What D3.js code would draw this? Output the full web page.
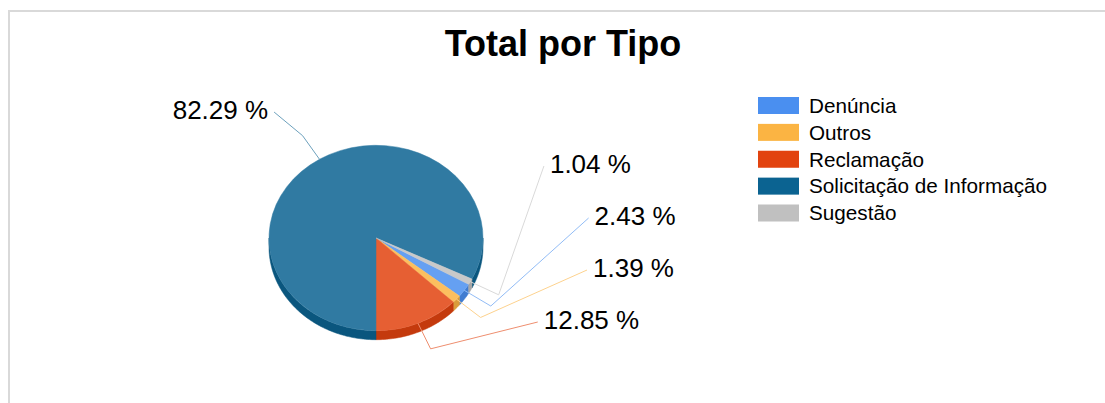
<!DOCTYPE html>
<html>
<head>
<meta charset="utf-8">
<script src="https://cdn.jsdelivr.net/npm/d3@7"></script>
<style>
  body { margin: 0; background: #fff; }
  #chart { width: 1105px; height: 403px; }
  text { font-family: "Liberation Sans", Arial, sans-serif; }
</style>
</head>
<body>
<div id="chart"></div>
<script>
const categories = ['Denúncia', 'Outros', 'Reclamação', 'Solicitação de Informação', 'Sugestão'];
const percentages = [2.43, 1.39, 12.85, 82.29, 1.04];
const baseColors = ['#4a8ff0', '#fbb443', '#e2430f', '#0b6391', '#c0c0c0'];
const chartTitle = 'Total por Tipo';

class Pie3DChart {
  constructor(_config, _data) {
    this.config = {
      parentElement: _config.parentElement,
      containerWidth: _config.containerWidth || 1105,
      containerHeight: _config.containerHeight || 403,
      cx: 376, cy: 238, rx: 107, ry: 92.7, depth: 9
    };
    this.data = _data;
    this.initVis();
  }

  initVis() {
    const vis = this;
    const c = vis.config;

    vis.svg = d3.select(c.parentElement)
      .append('svg')
      .attr('width', c.containerWidth)
      .attr('height', c.containerHeight);

    // frame (only top and left edges are visible)
    vis.svg.append('rect')
      .attr('x', 9).attr('y', 11)
      .attr('width', c.containerWidth + 50).attr('height', c.containerHeight + 50)
      .attr('fill', 'none')
      .attr('stroke', '#d9d9d9')
      .attr('stroke-width', 2);

    vis.svg.append('text')
      .attr('x', 563).attr('y', 56)
      .attr('text-anchor', 'middle')
      .attr('font-size', 36)
      .attr('font-weight', 'bold')
      .attr('fill', '#000')
      .text(chartTitle);

    vis.colorScale = d3.scaleOrdinal().domain(categories).range(baseColors);

    vis.updateVis();
  }

  updateVis() {
    const vis = this;
    const start = 2 * Math.PI / 3;
    vis.pie = d3.pie()
      .sort(null)
      .value(d => d.value)
      .startAngle(start)
      .endAngle(start + 2 * Math.PI);
    vis.arcs = vis.pie(vis.data);
    vis.renderVis();
  }

  renderVis() {
    const vis = this;
    const c = vis.config;
    const TAU = 2 * Math.PI;
    const topColor = k => d3.interpolateRgb(vis.colorScale(k), '#fff')(0.15);
    const sideColor = k => d3.color(vis.colorScale(k)).darker(0.4).formatHex();
    const lineColor = k => d3.interpolateRgb(vis.colorScale(k), '#fff')(0.4);
    const pt = (a, f) => [c.cx + c.rx * f * Math.sin(a), c.cy - c.ry * f * Math.cos(a)];

    const pieG = vis.svg.append('g');

    // front side walls
    const sidePaths = [];
    vis.arcs.forEach(d => {
      [0, 1].forEach(k => {
        const lo = Math.max(d.startAngle, Math.PI / 2 + TAU * k);
        const hi = Math.min(d.endAngle, 3 * Math.PI / 2 + TAU * k);
        if (hi <= lo) return;
        const n = Math.max(2, Math.ceil((hi - lo) / 0.02));
        const angles = d3.range(n + 1).map(i => lo + (hi - lo) * i / n);
        const top = angles.map(a => pt(a, 1));
        const bottom = angles.slice().reverse().map(a => { const p = pt(a, 1); return [p[0], p[1] + c.depth]; });
        sidePaths.push({ key: d.data.key, points: top.concat(bottom) });
      });
    });

    pieG.selectAll('.side')
      .data(sidePaths)
      .join('path')
      .attr('class', 'side')
      .attr('d', d => d3.line()(d.points) + 'Z')
      .attr('fill', d => sideColor(d.key))
      .attr('stroke', d => sideColor(d.key))
      .attr('stroke-width', 0.5);

    // top faces
    const arcGen = d3.arc().innerRadius(0).outerRadius(c.rx);
    pieG.append('g')
      .attr('transform', `translate(${c.cx},${c.cy}) scale(1,${c.ry / c.rx})`)
      .selectAll('.slice')
      .data(vis.arcs)
      .join('path')
      .attr('class', 'slice')
      .attr('d', arcGen)
      .attr('fill', d => topColor(d.data.key))
      .attr('stroke', d => topColor(d.data.key))
      .attr('stroke-width', 0.5)
      .attr('vector-effect', 'non-scaling-stroke');

    // label layout
    const labelCy = c.cy + 4;
    const spacing = 52, maxDy = 80, minDy = -130;
    const labels = vis.arcs.map(d => {
      const mid = ((d.startAngle + d.endAngle) / 2) % TAU;
      const right = Math.sin(mid) >= 0;
      return {
        key: d.data.key, value: d.data.value, mid, right,
        anchor: pt(mid, 1), elbow: pt(mid, 1.3),
        nx: 193 * Math.sin(mid),
        dy: Math.min(maxDy, Math.max(minDy, -153 * Math.cos(mid)))
      };
    });
    [true, false].forEach(side => {
      const group = labels.filter(l => l.right === side)
        .sort((a, b) => side ? a.mid - b.mid : b.mid - a.mid);
      for (let i = group.length - 2; i >= 0; i--) group[i].dy = Math.min(group[i].dy, group[i + 1].dy - spacing);
      for (let i = 1; i < group.length; i++) group[i].dy = Math.max(group[i].dy, group[i - 1].dy + spacing);
    });
    labels.forEach(l => {
      const sgn = l.right ? 1 : -1;
      const ex = Math.abs(l.dy) < 120 ? sgn * 217 * Math.sqrt(1 - (l.dy / 120) ** 2) : l.nx;
      l.end = [c.cx + ex, labelCy + l.dy];
    });

    vis.svg.selectAll('.leader')
      .data(labels)
      .join('polyline')
      .attr('class', 'leader')
      .attr('points', d => [d.anchor, d.elbow, d.end].map(p => p.join(',')).join(' '))
      .attr('fill', 'none')
      .attr('stroke', d => lineColor(d.key))
      .attr('stroke-width', 1);

    vis.svg.selectAll('.pct')
      .data(labels)
      .join('text')
      .attr('class', 'pct')
      .attr('x', d => d.end[0] + (d.right ? 6 : -6))
      .attr('y', d => d.end[1] - 2)
      .attr('dy', '0.35em')
      .attr('text-anchor', d => d.right ? 'start' : 'end')
      .attr('font-size', 26)
      .attr('fill', '#000')
      .text(d => d3.format('.2f')(d.value) + ' %');

    // legend
    const yLegend = d3.scalePoint().domain(categories).range([105.5, 213]);
    const legend = vis.svg.append('g').selectAll('.legend-item')
      .data(categories)
      .join('g')
      .attr('class', 'legend-item')
      .attr('transform', d => `translate(758,${yLegend(d)})`);
    legend.append('rect')
      .attr('x', 0).attr('y', -8.5)
      .attr('width', 41).attr('height', 17)
      .attr('fill', d => vis.colorScale(d));
    legend.append('text')
      .attr('x', 51).attr('y', 0)
      .attr('dy', '0.35em')
      .attr('font-size', 20.7)
      .attr('fill', '#000')
      .text(d => d);
  }
}

const tableData = categories.map((k, i) => ({ key: k, value: percentages[i] }));
new Pie3DChart({ parentElement: '#chart' }, tableData);
</script>
</body>
</html>
